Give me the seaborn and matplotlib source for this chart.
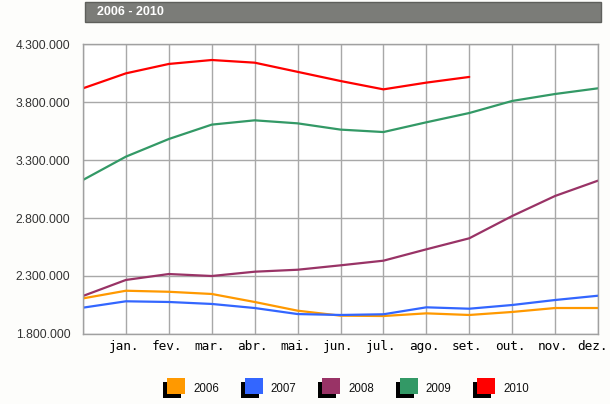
import matplotlib
matplotlib.use("Agg")
import matplotlib.pyplot as plt
from matplotlib.patches import Rectangle
from matplotlib.ticker import FuncFormatter
import seaborn as sns
import pandas as pd

# ---- data ----
months = ["", "jan.", "fev.", "mar.", "abr.", "mai.", "jun.", "jul.",
          "ago.", "set.", "out.", "nov.", "dez."]
years = ["2006", "2007", "2008", "2009", "2010"]
v2006 = [2107000, 2173000, 2164000, 2145000, 2076000, 2001000, 1958000,
         1955000, 1978000, 1964000, 1990000, 2024000, 2024000]
v2007 = [2027000, 2082000, 2076000, 2059000, 2024000, 1972000, 1964000,
         1970000, 2030000, 2018000, 2050000, 2093000, 2130000]
v2008 = [2128000, 2266000, 2317000, 2300000, 2337000, 2354000, 2392000,
         2432000, 2530000, 2625000, 2817000, 2990000, 3122000]
v2009 = [3128000, 3329000, 3481000, 3605000, 3642000, 3616000, 3562000,
         3541000, 3625000, 3705000, 3809000, 3869000, 3918000]
v2010 = [3918000, 4047000, 4128000, 4162000, 4139000, 4060000, 3981000,
         3909000, 3967000, 4016000]
yticks = [1800000, 2300000, 2800000, 3300000, 3800000, 4300000]
colors = ["#FF9900", "#3366FF", "#993366", "#339966", "#FF0000"]
title = "2006 - 2010"

series = [v2006, v2007, v2008, v2009, v2010]
rows = []
for y, vals in zip(years, series):
    for i, v in enumerate(vals):
        rows.append({"pos": i, "value": v, "year": y})
df = pd.DataFrame(rows)

sns.set_style("white")
plt.rcParams["font.family"] = ["Liberation Sans", "DejaVu Sans"]

fig = plt.figure(figsize=(6.10, 4.04), dpi=100)
fig.patch.set_facecolor("#FDFDFB")
ax = fig.add_axes([83 / 610, 70 / 404, 515 / 610, 290 / 404])
ax.set_facecolor("white")

sns.lineplot(data=df, x="pos", y="value", hue="year", palette=colors,
             linewidth=1.6, ax=ax, legend=False, sort=False)

ax.set_xlim(0, len(months) - 1)
ax.set_ylim(yticks[0], yticks[-1])
ax.set_yticks(yticks)
ax.set_xticks(range(len(months)))
ax.set_xticklabels([])
for k, m in enumerate(months):
    if not m:
        continue
    dx = -6 if k == len(months) - 1 else -2
    ax.annotate(m, xy=(k, 0), xycoords=("data", "axes fraction"),
                xytext=(dx, -6), textcoords="offset pixels",
                ha="center", va="top", fontfamily="DejaVu Sans Mono",
                fontsize=9.2, color="black", annotation_clip=False)
ax.yaxis.set_major_formatter(
    FuncFormatter(lambda v, p: f"{int(round(v)):,}".replace(",", ".")))
ax.tick_params(axis="y", length=0, pad=9, labelsize=8.7, labelcolor="#333333")
ax.tick_params(axis="x", length=0, pad=5)
ax.grid(True, color="#A8A8A8", linewidth=1.0)
ax.set_axisbelow(True)
for s in ax.spines.values():
    s.set_color("#A0A0A0")
    s.set_linewidth(1.0)
ax.set_xlabel("")
ax.set_ylabel("")

# ---- title bar ----
W, H = 610, 404
fig.add_artist(Rectangle((85 / W, (H - 22) / H), 516 / W, 20 / H,
                         transform=fig.transFigure, facecolor="#7B7C78",
                         edgecolor="#5E5F5B", linewidth=1.0))
fig.text(97 / W, (H - 12) / H, title, color="white", fontsize=9,
         fontweight="bold", va="center", ha="left")

# ---- legend ----
for i, (y, c) in enumerate(zip(years, colors)):
    x0 = 163 + i * 77.5
    fig.add_artist(Rectangle((x0 / W, (H - 398) / H), 18 / W, 16 / H,
                             transform=fig.transFigure, facecolor="black",
                             edgecolor="none"))
    fig.add_artist(Rectangle(((x0 + 4) / W, (H - 394) / H), 18 / W, 16 / H,
                             transform=fig.transFigure, facecolor=c,
                             edgecolor="none"))
    fig.text((x0 + 30) / W, (H - 389) / H, y, fontsize=8.3, color="#111111",
             va="center", ha="left")

fig.savefig("out.png", dpi=100, facecolor=fig.get_facecolor())
